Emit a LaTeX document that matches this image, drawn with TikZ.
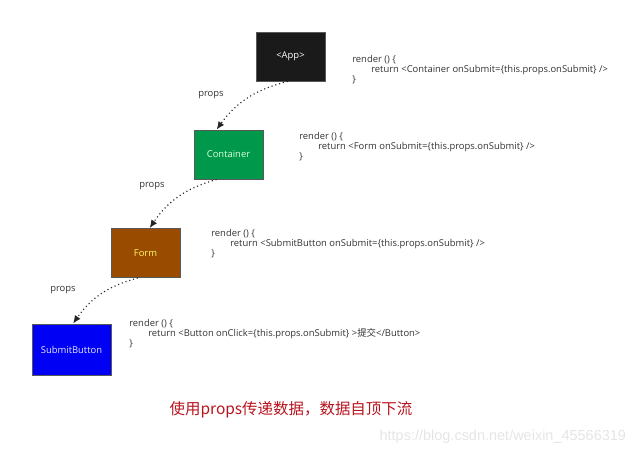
\documentclass[tikz,border=0pt]{standalone}
\usepackage{fontspec}
\setmainfont{Open Sans}
\newfontfamily\cjk{Noto Sans CJK SC}
\newfontfamily\wmfont{Liberation Sans}
\usetikzlibrary{arrows.meta,calc,positioning}
\definecolor{appblack}{HTML}{1A1A1A}
\definecolor{contgreen}{HTML}{00994C}
\definecolor{formbrown}{HTML}{994C00}
\definecolor{btnblue}{HTML}{0000F5}
\definecolor{capred}{HTML}{B8141E}
\tikzset{comp/.style={draw=black!65,line width=0.6pt,minimum width=1.725cm,minimum height=1.225cm,inner sep=0pt,font=\fontsize{6.7}{8}\selectfont},
  code/.style={anchor=north west,align=left,inner sep=0pt,font=\fontsize{6.7}{7}\selectfont,text=black!80},
  lbl/.style={font=\fontsize{6.7}{8}\selectfont,text=black!80},
  arr/.style={-{Latex[length=2mm,width=1.7mm]},dotted,thick,black!85}}
\newcommand{\ind}{\hspace*{13.5pt}}

\begin{document}
\begin{tikzpicture}[x=0.025cm,y=-0.025cm]
\useasboundingbox (0,0) rectangle (640,455);
% components
\node[comp,fill=appblack,text=white] (app) at (290.5,56.5) {<App>};
\node[comp,fill=contgreen,text=green!15] (container) at (228.5,154.5) {Container};
\node[comp,fill=formbrown,text=yellow!60] (form) at (145.5,253) {Form};
\node[comp,fill=btnblue,text=blue!10,minimum width=1.975cm,minimum height=1.275cm] (submit) at (71.5,349.5) {SubmitButton};
% render code
\node[code] (appcode) at (352,55.5) {render () \{\\\ind return <Container onSubmit=\{this.props.onSubmit\} />\\\}};
\node[code] (contcode) at (299,132.5) {render () \{\\\ind return <Form onSubmit=\{this.props.onSubmit\} />\\\}};
\node[code] (formcode) at (211,229.5) {render () \{\\\ind return <SubmitButton onSubmit=\{this.props.onSubmit\} />\\\}};
\node[code] (submitcode) at (129,319.5) {render () \{\\\ind return <Button onClick=\{this.props.onSubmit\} >{\cjk 提交}</Button>\\\}};
% props flow
\node[lbl] (p1) at (211,95) {props};
\node[lbl] (p2) at (152,186) {props};
\node[lbl] (p3) at (63,290) {props};
\foreach \a/\b/\s/\e in {app/container/0.46/0.33,container/form/0.33/0.56,form/submit/0.39/0.52}
  \draw[arr] ($(\a.south west)!\s!(\a.south east)$) to[bend right=20] ($(\b.north west)!\e!(\b.north east)$);
\node[text=capred,font=\cjk\fontsize{11}{13}\selectfont] (caption) at (291,410) {使用props传递数据，数据自顶下流};
\node[text=black!10,font=\wmfont\fontsize{10.3}{12}\selectfont,anchor=east] (mark) at (631,437) {https://blog.csdn.net/weixin\_45566319};
\end{tikzpicture}
\end{document}
